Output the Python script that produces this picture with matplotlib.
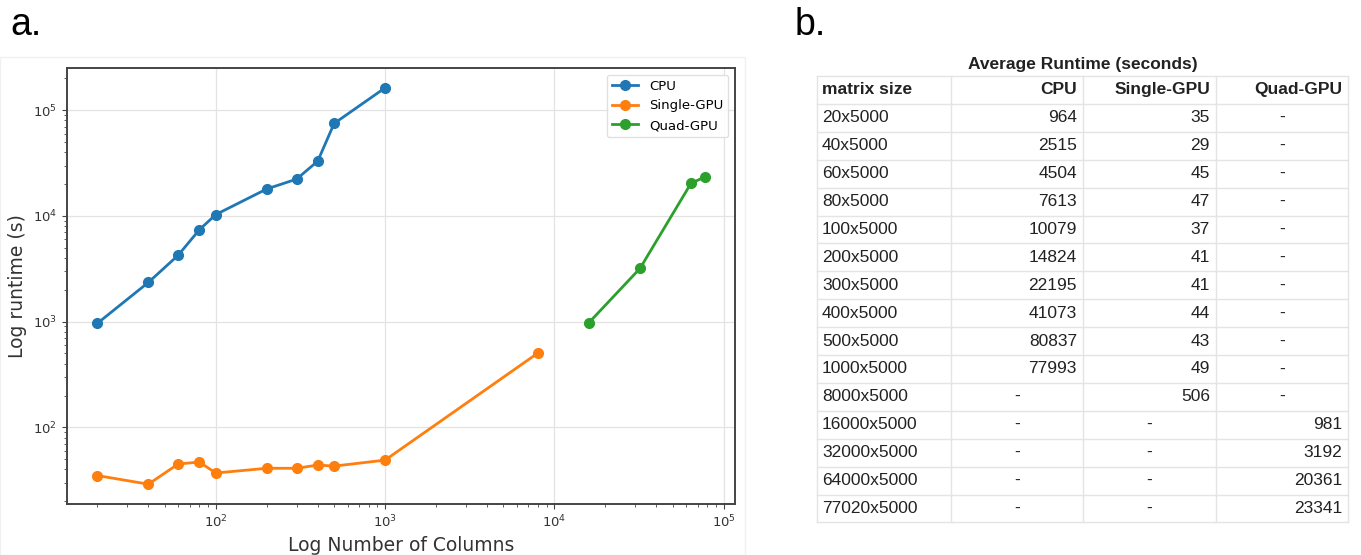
import matplotlib
matplotlib.use('Agg')
import matplotlib.pyplot as plt
from matplotlib.patches import Rectangle

# Inputs
cpu_cols = [20, 40, 60, 80, 100, 200, 300, 400, 500, 1000]
cpu_runtime = [964, 2350, 4250, 7400, 10300, 18000, 22300, 33000, 75000, 163000]
single_cols = [20, 40, 60, 80, 100, 200, 300, 400, 500, 1000, 8000]
single_runtime = [35, 29, 45, 47, 37, 41, 41, 44, 43, 49, 506]
quad_cols = [16000, 32000, 64000, 77020]
quad_runtime = [981, 3192, 20361, 23341]

# Table in panel b
table_title = 'Average Runtime (seconds)'
table_header = ['matrix size', 'CPU', 'Single-GPU', 'Quad-GPU']
matrix_sizes = ['20x5000', '40x5000', '60x5000', '80x5000', '100x5000', '200x5000',
                '300x5000', '400x5000', '500x5000', '1000x5000', '8000x5000',
                '16000x5000', '32000x5000', '64000x5000', '77020x5000']
table_cpu = ['964', '2515', '4504', '7613', '10079', '14824', '22195', '41073',
             '80837', '77993', '-', '-', '-', '-', '-']
table_single = ['35', '29', '45', '47', '37', '41', '41', '44', '43', '49', '506',
                '-', '-', '-', '-']
table_quad = ['-', '-', '-', '-', '-', '-', '-', '-', '-', '-', '-',
              '981', '3192', '20361', '23341']
# ------------

W, H = 1361, 555
fig = plt.figure(figsize=(W / 100, H / 100), dpi=100)

# Panel a: log-log runtime plot
ax = fig.add_axes([67 / W, 1 - 504 / H, (735 - 67) / W, (504 - 68) / H])
ax.plot(cpu_cols, cpu_runtime, '-o', color='#1f77b4', lw=2, ms=7, label='CPU')
ax.plot(single_cols, single_runtime, '-o', color='#ff7f0e', lw=2, ms=7, label='Single-GPU')
ax.plot(quad_cols, quad_runtime, '-o', color='#2ca02c', lw=2, ms=7, label='Quad-GPU')
ax.set_xscale('log')
ax.set_yscale('log')
ax.grid(True, which='major', color='#e3e3e3', lw=0.9)
ax.set_axisbelow(True)
for s in ax.spines.values():
    s.set_color('#444444')
    s.set_linewidth(1.4)
ax.tick_params(which='both', colors='#444444', labelsize=9.5, labelcolor='#333333')
ax.set_xlabel('Log Number of Columns', fontsize=13.5, color='#333333')
ax.set_ylabel('Log runtime (s)', fontsize=13.5, color='#333333')
ax.legend(loc='upper right', fontsize=9.5, framealpha=0.9, edgecolor='#dddddd')

# faint frame around the plot image
fig.patches.append(Rectangle((0, 0), 745 / W, 1 - 57 / H, transform=fig.transFigure,
                             fill=False, ec='#f0f0f0', lw=1))

# Panel labels
fig.text(10 / W, 1 - 35 / H, 'a.', fontsize=27, family='Liberation Sans', va='baseline')
fig.text(795 / W, 1 - 35 / H, 'b.', fontsize=27, family='Liberation Sans', va='baseline')

# Panel b: table drawn in pixel coordinates
tab = fig.add_axes([0, 0, 1, 1])
tab.set_xlim(0, W)
tab.set_ylim(H, 0)
tab.axis('off')

col_edges = [817, 951, 1083, 1216, 1348]
row_top, row_h = 76, 27.9
n_rows = len(matrix_sizes) + 1
line_c = '#e4e4e4'
for i in range(n_rows + 1):
    y = row_top + i * row_h
    tab.plot([col_edges[0], col_edges[-1]], [y, y], color=line_c, lw=1)
for x in col_edges:
    tab.plot([x, x], [row_top, row_top + n_rows * row_h], color=line_c, lw=1)

font = dict(family='Liberation Sans', fontsize=12.5, color='#222222', va='center')
tab.text((col_edges[0] + col_edges[-1]) / 2, 65, table_title, ha='center',
         fontweight='bold', **font)

rows = [table_header] + [list(r) for r in zip(matrix_sizes, table_cpu, table_single, table_quad)]
for i, row in enumerate(rows):
    yc = row_top + (i + 0.5) * row_h
    weight = 'bold' if i == 0 else 'normal'
    for j, val in enumerate(row):
        if j == 0:
            tab.text(col_edges[0] + 5, yc, val, ha='left', fontweight=weight, **font)
        elif val == '-':
            tab.text((col_edges[j] + col_edges[j + 1]) / 2, yc, val, ha='center', **font)
        else:
            tab.text(col_edges[j + 1] - 6, yc, val, ha='right', fontweight=weight, **font)

fig.savefig('out.png', dpi=100)
